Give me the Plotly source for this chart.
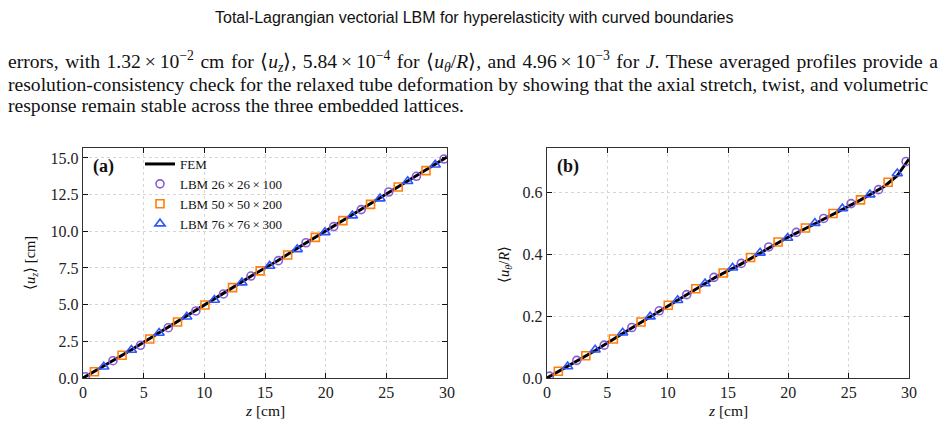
import plotly.graph_objects as go
from plotly.subplots import make_subplots

# ---------------- data ----------------
z_fem = [0, 2, 4, 6, 8, 10, 12, 14, 16, 18, 20, 22, 24, 26, 28, 29, 30]
uz_fem = [0.0, 0.95, 1.93, 2.95, 3.95, 4.98, 5.99, 7.02, 7.98, 9.02, 10.02, 11.02, 12.04, 13.05, 14.05, 14.57, 15.07]
ut_fem = [0.0, 0.045, 0.089, 0.137, 0.184, 0.232, 0.277, 0.326, 0.366, 0.411, 0.455, 0.494, 0.535, 0.575, 0.620, 0.652, 0.707]

z_c = [0.2, 2.47, 4.74, 7.03, 9.3, 11.58, 13.84, 16.1, 18.38, 20.66, 22.93, 25.2, 27.48, 29.76]
z_s = [0.94, 3.22, 5.5, 7.79, 10.05, 12.33, 14.6, 16.87, 19.15, 21.42, 23.7, 25.98, 28.27]
z_t = [1.71, 3.99, 6.27, 8.55, 10.83, 13.1, 15.38, 17.66, 19.94, 22.2, 24.48, 26.76, 29.03]

uz_c = [0.09, 1.18, 2.23, 3.43, 4.57, 5.73, 6.95, 8.0, 9.22, 10.32, 11.48, 12.68, 13.75, 14.93]
uz_s = [0.43, 1.55, 2.66, 3.82, 4.98, 6.16, 7.3, 8.39, 9.59, 10.73, 11.84, 13.02, 14.14]
uz_t = [0.77, 1.91, 3.07, 4.18, 5.32, 6.5, 7.64, 8.77, 9.93, 11.07, 12.23, 13.41, 14.54]

ut_c = [0.006, 0.057, 0.106, 0.163, 0.217, 0.269, 0.325, 0.370, 0.423, 0.470, 0.515, 0.563, 0.608, 0.699]
ut_s = [0.022, 0.072, 0.126, 0.181, 0.235, 0.288, 0.339, 0.389, 0.439, 0.484, 0.531, 0.575, 0.632]
ut_t = [0.037, 0.091, 0.146, 0.198, 0.251, 0.305, 0.356, 0.404, 0.452, 0.500, 0.547, 0.592, 0.660]

names = ["FEM", "LBM 26\u2009×\u200926\u2009×\u2009100", "LBM 50\u2009×\u200950\u2009×\u2009200", "LBM 76\u2009×\u200976\u2009×\u2009300"]
xticks = [0, 5, 10, 15, 20, 25, 30]
yticks_a = [0, 2.5, 5, 7.5, 10, 12.5, 15]
yticks_b = [0, 0.2, 0.4, 0.6]

# ---------------- styles ----------------
C_PURPLE = "#8a5cd6"
C_ORANGE = "#ff7f0e"
C_BLUE = "#2f55ff"
SERIF = "Liberation Serif"
SANS = "Liberation Sans"

W, H = 947, 425
ML, MR, MT, MB = 83, 38, 148, 47
PW = W - ML - MR
PH = H - MT - MB


def px(xp):
    return (xp - ML) / PW


def py(yp):
    return (H - MB - yp) / PH


fig = make_subplots(rows=1, cols=2, horizontal_spacing=0.1)
fig.update_xaxes(domain=[0, px(447)], row=1, col=1)
fig.update_xaxes(domain=[px(547), 1], row=1, col=2)

panels = [
    (1, uz_fem, uz_c, uz_s, uz_t),
    (2, ut_fem, ut_c, ut_s, ut_t),
]
for col, fem, yc, ys, yt in panels:
    show = col == 1
    fig.add_trace(go.Scatter(x=z_fem, y=fem, mode="lines", name=names[0],
                             line=dict(color="black", width=3), showlegend=show,
                             legendgroup="fem"), row=1, col=col)
    fig.add_trace(go.Scatter(x=z_c, y=yc, mode="markers", name=names[1],
                             marker=dict(symbol="circle-open", size=8, color=C_PURPLE,
                                         line=dict(width=1.6, color=C_PURPLE)),
                             showlegend=show, legendgroup="c"), row=1, col=col)
    fig.add_trace(go.Scatter(x=z_s, y=ys, mode="markers", name=names[2],
                             marker=dict(symbol="square-open", size=8, color=C_ORANGE,
                                         line=dict(width=1.6, color=C_ORANGE)),
                             showlegend=show, legendgroup="s"), row=1, col=col)
    fig.add_trace(go.Scatter(x=z_t, y=yt, mode="markers", name=names[3],
                             marker=dict(symbol="triangle-up-open", size=9, color=C_BLUE,
                                         line=dict(width=1.6, color=C_BLUE)),
                             showlegend=show, legendgroup="t"), row=1, col=col)

axis_common = dict(showline=True, linecolor="#333", linewidth=1.4, mirror="ticks",
                   ticks="inside", ticklen=5, tickwidth=1.2, tickcolor="#111",
                   showgrid=True, gridcolor="#d6d6d6", gridwidth=0.8, griddash="dot",
                   zeroline=False, tickfont=dict(family=SERIF, size=16, color="#222"))

fig.update_xaxes(range=[0, 30], tickvals=xticks, ticktext=[str(v) for v in xticks], **axis_common)
fig.update_yaxes(range=[0, 15.68], tickvals=yticks_a, ticktext=[f"{v:.1f}" for v in yticks_a],
                 row=1, col=1, **axis_common)
fig.update_yaxes(range=[0, 0.7425], tickvals=yticks_b, ticktext=[f"{v:.1f}" for v in yticks_b],
                 row=1, col=2, **axis_common)

ann = []
ann.append(dict(text="Total-Lagrangian vectorial LBM for hyperelasticity with curved boundaries",
                x=px(473.5), y=py(17), xref="paper", yref="paper", showarrow=False,
                xanchor="center", yanchor="middle", font=dict(family=SANS, size=16, color="#111")))
SP = "\u2004"
line1 = SP.join([
    "errors,", "with", "1.32\u2009×\u200910<sup>−2</sup>", "cm", "for", "⟨<i>u<sub>z</sub></i>⟩,",
    "5.84\u2009×\u200910<sup>−4</sup>", "for", "⟨<i>u<sub>θ</sub></i>/<i>R</i>⟩,", "and",
    "4.96\u2009×\u200910<sup>−3</sup>", "for", "<i>J</i>.", "These", "averaged", "profiles",
    "provide", "a",
])
lines = [
    line1,
    "resolution-consistency check for the relaxed tube deformation by showing that the axial stretch, twist, and volumetric",
    "response remain stable across the three embedded lattices.",
]
for i, t in enumerate(lines):
    ann.append(dict(text=t, x=px(6), y=py(62 + 22 * i), xref="paper", yref="paper",
                    showarrow=False, xanchor="left", yanchor="middle",
                    font=dict(family=SERIF, size=19.6, color="#111")))
ann.append(dict(text="<b>(a)</b>", x=px(91), y=py(166), xref="paper", yref="paper",
                showarrow=False, xanchor="left", yanchor="middle",
                font=dict(family=SERIF, size=18, color="#111")))
ann.append(dict(text="<b>(b)</b>", x=px(555), y=py(166), xref="paper", yref="paper",
                showarrow=False, xanchor="left", yanchor="middle",
                font=dict(family=SERIF, size=18, color="#111")))
ann.append(dict(text="⟨<i>u<sub>z</sub></i>⟩ [cm]", x=px(31), y=py(263), xref="paper", yref="paper",
                showarrow=False, textangle=-90, xanchor="center", yanchor="middle",
                font=dict(family=SERIF, size=14.5, color="#111")))
ann.append(dict(text="⟨<i>u<sub>θ</sub></i>/<i>R</i>⟩", x=px(505), y=py(265), xref="paper", yref="paper",
                showarrow=False, textangle=-90, xanchor="center", yanchor="middle",
                font=dict(family=SERIF, size=14.5, color="#111")))
ann.append(dict(text="<i>z</i> [cm]", x=px(265), y=py(410), xref="paper", yref="paper",
                showarrow=False, xanchor="center", yanchor="middle",
                font=dict(family=SERIF, size=15.5, color="#111")))
ann.append(dict(text="<i>z</i> [cm]", x=px(728), y=py(410), xref="paper", yref="paper",
                showarrow=False, xanchor="center", yanchor="middle",
                font=dict(family=SERIF, size=15.5, color="#111")))

fig.update_layout(
    width=W, height=H,
    margin=dict(l=ML, r=MR, t=MT, b=MB),
    paper_bgcolor="white", plot_bgcolor="white",
    annotations=ann,
    legend=dict(x=px(140), y=py(149), xanchor="left", yanchor="top",
                bgcolor="rgba(0,0,0,0)", font=dict(family=SERIF, size=13, color="#111"),
                tracegroupgap=0, itemwidth=30),
    showlegend=True,
)

fig.write_html("out.html")
